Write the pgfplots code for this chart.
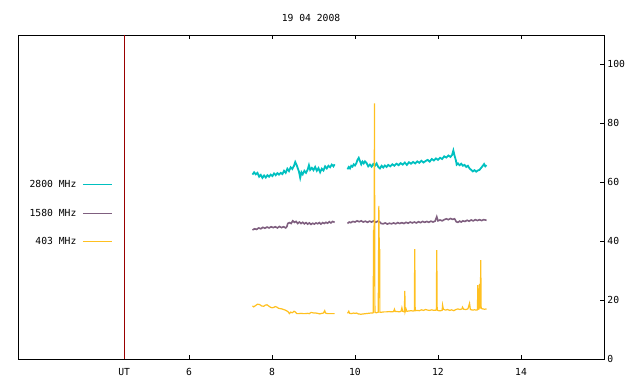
\documentclass[border=0pt]{standalone}
\usepackage{pgfplots}
\pgfplotsset{compat=1.18}
\usepackage{fontspec}
\setmainfont{DejaVu Sans Mono}
\definecolor{cA}{HTML}{00C0C0}
\definecolor{cB}{HTML}{7F5F7F}
\definecolor{cC}{HTML}{FFC020}
\definecolor{cR}{HTML}{990000}
\begin{document}
\fontsize{9.7bp}{11bp}\selectfont
\begin{tikzpicture}
\begin{axis}[
 scale only axis, width=586bp, height=324bp,
 xmin=1.88, xmax=16, ymin=0, ymax=110,
 xtick={4.44,6,8,10,12,14}, xticklabels={UT,6,8,10,12,14},
 ytick={0,20,...,100},
 ytick pos=right, yticklabel pos=right,
 xtick pos=both, xticklabel pos=bottom,
 tick align=inside, major tick length=4bp,
 axis line style={line width=0.9bp},
 tick style={line width=0.8bp, black},
 /pgf/number format/assume math mode=true,
 tick label style={font=\fontsize{9.7bp}{11bp}\selectfont},
 xticklabel style={yshift=-6bp},
 title={19 04 2008},
 title style={at={(0.5,1)}, anchor=south, yshift=4bp, font=\fontsize{9.7bp}{11bp}\selectfont},
 legend plot pos=right, legend cell align=right,
 legend image code/.code={\draw[#1,line width=1.3bp] (0bp,0bp) -- (29bp,0bp);},
 legend style={draw=none, fill=none, at={(rel axis cs:0.011,0.45)}, anchor=west, row sep=16bp, column sep=4bp, font=\fontsize{9.7bp}{11bp}\selectfont},
]
\addplot[cR, line width=1bp, forget plot] coordinates {(4.44,0) (4.44,110)};
% 2800 MHz
\addplot[cA, line width=1.8bp] coordinates {
(7.53,62.6)(7.57,63.4)(7.61,62.7)(7.65,63.2)(7.69,61.9)(7.73,62.5)(7.77,61.5)(7.81,62.3)(7.85,61.6)(7.89,62.4)
(7.93,61.9)(7.97,62.6)(8.01,62.1)(8.05,63.0)(8.09,62.4)(8.13,63.1)(8.17,62.6)(8.21,63.2)(8.25,62.8)(8.29,63.9)
(8.33,63.2)(8.37,64.6)(8.41,63.8)(8.45,65.1)(8.49,64.5)(8.53,65.6)(8.56,66.9)(8.59,66.0)(8.62,64.8)(8.65,63.6)
(8.68,61.5)(8.71,63.4)(8.74,62.7)(8.78,63.9)(8.82,63.2)(8.86,64.3)(8.89,65.8)(8.92,64.2)(8.96,64.9)(9.00,64.1)
(9.04,65.2)(9.08,63.9)(9.12,64.8)(9.16,63.4)(9.20,64.6)(9.24,64.0)(9.28,65.4)(9.32,64.7)(9.36,65.6)(9.40,65.1)
(9.44,66.0)(9.48,65.4)(9.51,66.1)};
\addlegendentry{2800 MHz}
\addplot[cA, line width=1.8bp, forget plot] coordinates {
(9.82,64.4)(9.85,65.2)(9.88,64.7)(9.91,65.6)(9.94,65.3)(9.97,66.1)(10.00,65.7)(10.03,66.4)(10.06,67.6)(10.09,68.3)
(10.12,67.2)(10.15,66.1)(10.18,67.0)(10.21,66.4)(10.24,67.1)(10.28,66.5)(10.32,65.4)(10.36,66.0)(10.40,65.3)(10.44,66.2)
(10.48,65.6)(10.52,66.4)(10.56,65.2)(10.60,64.7)(10.64,65.6)(10.68,65.0)(10.72,65.7)(10.76,65.2)(10.80,65.9)(10.85,65.4)
(10.90,66.1)(10.95,65.6)(11.00,66.3)(11.05,65.8)(11.10,66.5)(11.15,66.0)(11.20,66.7)(11.25,65.9)(11.30,66.8)(11.35,66.3)
(11.40,66.9)(11.45,66.4)(11.50,67.1)(11.55,66.6)(11.60,67.3)(11.65,66.7)(11.70,67.2)(11.75,67.6)(11.80,67.0)(11.85,67.9)
(11.90,67.4)(11.95,68.1)(12.00,67.6)(12.05,68.3)(12.10,67.9)(12.15,68.8)(12.20,68.4)(12.25,69.1)(12.30,68.6)(12.34,69.3)
(12.37,70.8)(12.40,69.0)(12.43,67.5)(12.45,66.0)(12.48,66.4)(12.52,65.8)(12.56,66.3)(12.60,65.6)(12.64,65.9)(12.68,65.2)
(12.72,65.6)(12.76,64.7)(12.80,64.2)(12.84,63.7)(12.88,64.1)(12.92,63.6)(12.96,64.0)(13.00,64.2)(13.04,64.9)(13.08,65.6)
(13.11,66.2)(13.14,65.4)(13.17,65.8)};
% 1580 MHz
\addplot[cB, line width=1.6bp] coordinates {
(7.53,43.8)(7.58,44.2)(7.63,44.0)(7.68,44.5)(7.73,44.2)(7.78,44.7)(7.83,44.4)(7.88,44.8)(7.93,44.5)(7.98,44.9)
(8.03,44.6)(8.08,44.9)(8.13,44.5)(8.18,45.0)(8.23,44.6)(8.28,44.9)(8.33,44.5)(8.36,45.0)(8.38,46.0)(8.42,46.3)
(8.46,46.0)(8.50,46.9)(8.54,46.4)(8.58,46.7)(8.62,46.0)(8.66,46.5)(8.70,46.0)(8.74,46.4)(8.78,45.9)(8.82,46.3)
(8.86,45.8)(8.90,46.2)(8.94,45.7)(8.98,46.1)(9.02,45.8)(9.06,46.2)(9.10,45.9)(9.14,46.3)(9.18,45.8)(9.22,46.3)
(9.26,46.0)(9.30,46.4)(9.34,46.1)(9.38,46.6)(9.42,46.2)(9.46,46.7)(9.51,46.4)};
\addlegendentry{1580 MHz}
\addplot[cB, line width=1.6bp, forget plot] coordinates {
(9.82,46.0)(9.86,46.5)(9.90,46.3)(9.95,46.7)(10.00,46.5)(10.05,46.9)(10.10,46.6)(10.15,46.9)(10.20,46.5)(10.25,46.8)
(10.30,46.4)(10.35,46.8)(10.40,46.5)(10.45,46.9)(10.50,46.4)(10.55,46.8)(10.60,46.5)(10.63,46.0)(10.68,45.9)(10.73,46.2)
(10.78,45.8)(10.83,46.1)(10.88,45.9)(10.93,46.2)(10.98,45.9)(11.03,46.3)(11.08,46.0)(11.13,46.3)(11.18,46.0)(11.23,46.4)
(11.28,46.1)(11.33,46.5)(11.38,46.2)(11.43,46.5)(11.48,46.2)(11.53,46.6)(11.58,46.3)(11.63,46.7)(11.68,46.4)(11.73,46.7)
(11.78,46.4)(11.83,46.8)(11.88,46.5)(11.93,46.8)(11.97,48.3)(12.00,46.9)(12.05,47.2)(12.10,46.9)(12.15,47.3)(12.20,47.6)
(12.25,47.3)(12.30,47.7)(12.35,47.4)(12.40,47.6)(12.44,46.6)(12.48,46.4)(12.52,46.8)(12.56,46.5)(12.60,46.9)(12.65,46.7)
(12.70,47.1)(12.75,46.8)(12.80,47.2)(12.85,46.9)(12.90,47.3)(12.95,47.0)(13.00,47.3)(13.05,47.0)(13.10,47.3)(13.17,47.1)};
% 403 MHz
\addplot[cC, line width=1.2bp] coordinates {
(7.53,18.0)(7.56,17.7)(7.60,18.1)(7.65,18.6)(7.70,18.5)(7.75,18.0)(7.80,17.9)(7.84,18.3)(7.88,18.4)(7.92,18.0)
(7.96,17.6)(8.00,17.4)(8.04,17.5)(8.08,17.8)(8.12,17.6)(8.16,17.2)(8.20,17.1)(8.24,17.0)(8.28,16.8)(8.32,16.6)
(8.36,16.3)(8.39,16.0)(8.42,15.4)(8.45,15.9)(8.49,15.7)(8.53,16.2)(8.56,16.0)(8.60,15.4)(8.65,15.4)(8.70,15.5)
(8.75,15.4)(8.80,15.4)(8.85,15.5)(8.90,15.4)(8.94,15.8)(8.98,15.7)(9.02,15.6)(9.06,15.6)(9.10,15.5)(9.15,15.3)
(9.20,15.5)(9.24,15.6)(9.27,16.4)(9.29,15.6)(9.34,15.4)(9.40,15.4)(9.45,15.4)(9.51,15.4)};
\addlegendentry{403 MHz}
\addplot[cC, line width=1.2bp, forget plot] coordinates {
(9.82,15.5)(9.85,16.2)(9.87,15.5)(9.92,15.4)(9.96,15.6)(10.00,15.5)(10.04,15.6)(10.08,15.3)(10.14,15.2)(10.20,15.3)
(10.26,15.4)(10.32,15.5)(10.38,15.6)(10.42,15.6)(10.44,15.7)(10.445,43.5)(10.46,44.0)(10.47,86.8)(10.475,43.0)(10.48,15.8)
(10.52,15.7)(10.56,15.9)(10.575,52.0)(10.585,36.5)(10.595,36.7)(10.60,15.9)(10.65,15.9)(10.70,16.0)(10.76,16.0)(10.82,16.1)
(10.88,16.0)(10.93,16.1)(10.95,16.9)(10.97,16.1)(11.02,16.1)(11.07,16.0)(11.11,16.2)(11.13,17.4)(11.15,16.2)(11.19,16.0)
(11.20,23.1)(11.21,16.1)(11.23,17.0)(11.25,16.2)(11.30,16.3)(11.35,16.4)(11.40,16.3)(11.43,16.4)(11.44,37.3)(11.45,16.4)
(11.50,16.5)(11.55,16.4)(11.60,16.7)(11.65,16.5)(11.70,16.8)(11.75,16.6)(11.80,16.5)(11.85,16.7)(11.90,16.5)(11.96,16.6)
(11.97,37.0)(11.98,16.6)(12.02,16.4)(12.06,16.4)(12.10,16.5)(12.11,18.3)(12.13,16.9)(12.18,16.6)(12.23,16.8)(12.28,16.5)
(12.33,16.7)(12.38,16.4)(12.43,16.8)(12.48,17.0)(12.53,16.8)(12.58,17.0)(12.59,17.6)(12.62,16.9)(12.67,16.8)(12.72,17.0)
(12.76,18.9)(12.78,16.8)(12.83,16.6)(12.88,16.7)(12.93,16.6)(12.95,16.7)(12.96,25.1)(12.97,16.9)(12.99,17.0)(13.00,25.5)
(13.02,17.2)(13.03,33.6)(13.04,17.2)(13.08,17.0)(13.12,16.9)(13.17,17.0)};
\end{axis}
\pgfresetboundingbox
\path (current axis.south west) ++(-18bp,-25bp) rectangle ++(640bp,384bp);
\end{tikzpicture}
\end{document}
